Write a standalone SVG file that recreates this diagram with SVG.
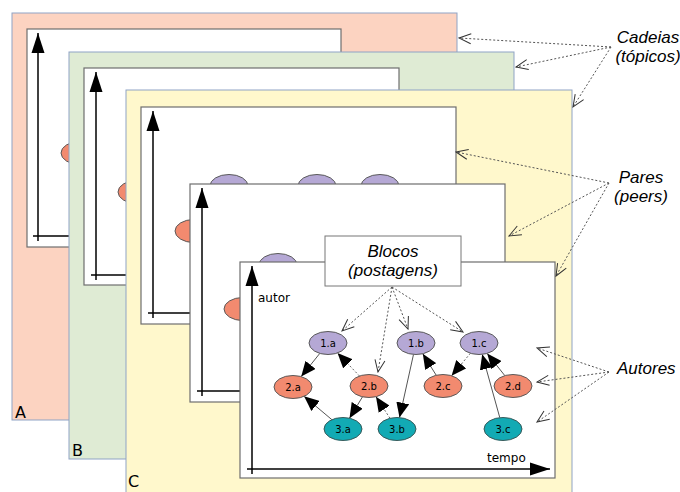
<svg xmlns="http://www.w3.org/2000/svg" width="680" height="492" viewBox="0 0 680 492">
<defs>
<style>
.outer{stroke:#8fa3c5;stroke-width:1}
.inner{fill:#fff;stroke:#6e6e6e;stroke-width:1.2}
.axis{fill:none;stroke:#000;stroke-width:1.5;marker-end:url(#axarr)}
.p{fill:#b5a8d5;stroke:#5a5a5a;stroke-width:1}
.s{fill:#f28a6f;stroke:#5a5a5a;stroke-width:1}
.t{fill:#12aab4;stroke:#3a5a5a;stroke-width:1}
.nl{font-family:"DejaVu Sans",sans-serif;font-size:10px;fill:#000;text-anchor:middle}
.lbl{font-family:"DejaVu Sans",sans-serif;font-size:16px;fill:#000}
.ax{font-family:"DejaVu Sans",sans-serif;font-size:12px;fill:#000}
.it{font-family:"Liberation Sans",Arial,sans-serif;font-style:italic;font-size:17px;fill:#000}
.e{fill:none;stroke:#555;stroke-width:1;marker-end:url(#tri)}
.ed{fill:none;stroke:#666;stroke-width:1;stroke-dasharray:2 2;marker-end:url(#tri)}
.co{fill:none;stroke:#555;stroke-width:1;stroke-dasharray:2 2;marker-end:url(#open)}
</style>
<marker id="axarr" viewBox="-20 -7 20 14" refX="0" refY="0" markerWidth="20" markerHeight="14" markerUnits="userSpaceOnUse" orient="auto"><path d="M-20,-6.5 L0,0 L-20,6.5 Z" fill="#000"/></marker>
<marker id="tri" viewBox="-15 -6.5 15 13" refX="0" refY="0" markerWidth="15" markerHeight="13" markerUnits="userSpaceOnUse" orient="auto"><path d="M-15,-6.5 L0,0 L-15,6.5 Z" fill="#000"/></marker>
<marker id="open" viewBox="-14 -7 15 14" refX="0" refY="0" markerWidth="15" markerHeight="14" markerUnits="userSpaceOnUse" orient="auto"><path d="M-12,-5 L0,0 L-12,5" fill="none" stroke="#333" stroke-width="1"/></marker>
</defs>

<!-- Chain A -->
<g id="chainA">
<rect class="outer" x="12" y="13" width="445" height="407" fill="#fcd3c1"/>
<rect class="inner" x="27" y="29" width="314" height="218"/>
<path class="axis" d="M38,241 L38,33"/>
<path class="axis" d="M33,236 L337,236"/>
<ellipse class="s" cx="80" cy="153" rx="19" ry="11.5"/>
<text class="lbl" x="15" y="418">A</text>
</g>

<!-- Chain B -->
<g id="chainB">
<rect class="outer" x="69" y="52" width="445" height="407" fill="#dfebd4"/>
<rect class="inner" x="84" y="68" width="315" height="217"/>
<path class="axis" d="M96,280 L96,72"/>
<path class="axis" d="M91,275 L394,275"/>
<ellipse class="s" cx="137" cy="192" rx="19" ry="11.5"/>
<text class="lbl" x="72" y="456">B</text>
</g>

<!-- Chain C -->
<g id="chainC">
<rect class="outer" x="126" y="90" width="446" height="412" fill="#fff8cc"/>
<rect class="inner" x="141" y="107" width="315" height="217"/>
<path class="axis" d="M153,318 L153,111"/>
<path class="axis" d="M148,313 L451,313"/>
<ellipse class="p" cx="229" cy="186" rx="19" ry="11.5"/>
<ellipse class="p" cx="317" cy="186" rx="19" ry="11.5"/>
<ellipse class="p" cx="380" cy="186" rx="19" ry="11.5"/>
<ellipse class="s" cx="194" cy="231" rx="19" ry="11.5"/>
<text class="lbl" x="128" y="487">C</text>
</g>

<!-- Peer D -->
<g id="peerD">
<rect class="inner" x="190" y="184" width="315" height="218"/>
<path class="axis" d="M202,396 L202,188"/>
<path class="axis" d="M197,391 L500,391"/>
<ellipse class="p" cx="278" cy="265" rx="19" ry="11.5"/>
<ellipse class="s" cx="243" cy="309" rx="19" ry="11.5"/>
</g>

<!-- Peer E -->
<g id="peerE">
<rect class="inner" x="240" y="262" width="315" height="216"/>
<path class="axis" d="M252,474 L252,266"/>
<path class="axis" d="M247,469 L550,469"/>
<text class="ax" x="258" y="302">autor</text>
<text class="ax" x="487" y="462">tempo</text>
</g>

<!-- Graph connectors -->
<g id="connectors">
<path class="e" d="M319.8,353.4 L301.2,376.6"/>
<path class="ed" d="M359.5,376 L337.5,353"/>
<path class="e" d="M331.9,419.7 L304.1,396.3"/>
<path class="e" d="M362.5,396.8 L349.5,418.2"/>
<path class="ed" d="M390,418.3 L376,396.7"/>
<path class="e" d="M413.5,354.4 L399.5,417.6"/>
<path class="e" d="M436.2,375.2 L422.8,353.8"/>
<path class="ed" d="M470.4,353.3 L451.6,375.7"/>
<path class="e" d="M499.8,417.7 L482.2,354.3"/>
<path class="e" d="M504.8,375.6 L487.2,353.4"/>
</g>

<!-- Nodes -->
<g id="n1a"><ellipse class="p" cx="328" cy="343" rx="19" ry="11.5"/><text class="nl" x="328" y="346.5">1.a</text></g>
<g id="n1b"><ellipse class="p" cx="416" cy="343" rx="19" ry="11.5"/><text class="nl" x="416" y="346.5">1.b</text></g>
<g id="n1c"><ellipse class="p" cx="479" cy="343" rx="19" ry="11.5"/><text class="nl" x="479" y="346.5">1.c</text></g>
<g id="n2a"><ellipse class="s" cx="293" cy="387" rx="19" ry="11.5"/><text class="nl" x="293" y="390.5">2.a</text></g>
<g id="n2b"><ellipse class="s" cx="369" cy="386" rx="19" ry="11.5"/><text class="nl" x="369" y="389.5">2.b</text></g>
<g id="n2c"><ellipse class="s" cx="443" cy="386" rx="19" ry="11.5"/><text class="nl" x="443" y="389.5">2.c</text></g>
<g id="n2d"><ellipse class="s" cx="513" cy="386" rx="19" ry="11.5"/><text class="nl" x="513" y="389.5">2.d</text></g>
<g id="n3a"><ellipse class="t" cx="343" cy="429" rx="19" ry="11.5"/><text class="nl" x="343" y="432.5">3.a</text></g>
<g id="n3b"><ellipse class="t" cx="397" cy="429" rx="19" ry="11.5"/><text class="nl" x="397" y="432.5">3.b</text></g>
<g id="n3c"><ellipse class="t" cx="503" cy="429" rx="19" ry="11.5"/><text class="nl" x="503" y="432.5">3.c</text></g>

<!-- Blocos label box -->
<g id="blocos">
<rect x="325" y="236" width="136" height="50" fill="#fff" stroke="#777" stroke-width="1"/>
<text class="it" x="393" y="257" text-anchor="middle">Blocos</text>
<text class="it" x="393" y="276" text-anchor="middle">(postagens)</text>
</g>

<!-- Side labels -->
<g id="cadeias">
<text class="it" x="648" y="43" text-anchor="middle">Cadeias</text>
<text class="it" x="648" y="62" text-anchor="middle">(tópicos)</text>
</g>
<g id="pares">
<text class="it" x="641" y="183" text-anchor="middle">Pares</text>
<text class="it" x="641" y="202" text-anchor="middle">(peers)</text>
</g>
<g id="autores">
<text class="it" x="617" y="374">Autores</text>
</g>

<!-- Callout connectors -->
<g id="callouts">
<path class="co" d="M611,47 L459,38"/>
<path class="co" d="M611,47 L516,67"/>
<path class="co" d="M611,47 L573,107"/>
<path class="co" d="M609,183 L456,152"/>
<path class="co" d="M609,183 L509,236"/>
<path class="co" d="M609,183 L556,276"/>
<path class="co" d="M609,372 L537,348"/>
<path class="co" d="M609,372 L537,382"/>
<path class="co" d="M609,372 L537,422"/>
<path class="co" d="M392,287 L342,331"/>
<path class="co" d="M392,287 L378,372"/>
<path class="co" d="M392,287 L408,329"/>
<path class="co" d="M392,287 L463,332"/>
</g>
</svg>
